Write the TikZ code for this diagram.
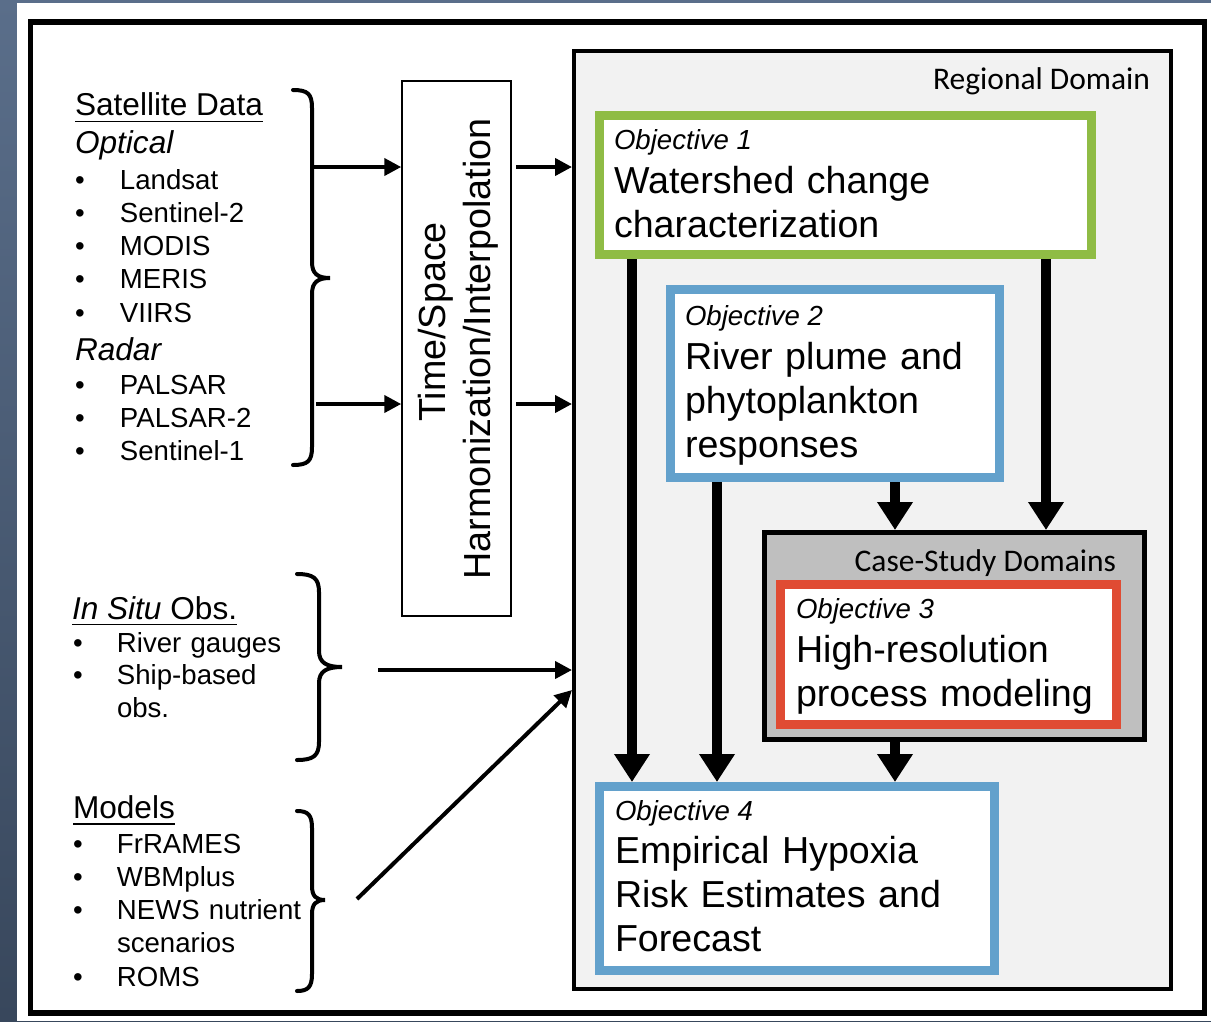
\documentclass[tikz,border=0pt]{standalone}
\usepackage{fontspec}
\setmainfont{Liberation Sans}
\newfontfamily\calibri{Carlito}
\usetikzlibrary{arrows.meta,calc}
\definecolor{bgtop}{HTML}{5A6E8A}
\definecolor{bgbot}{HTML}{38475C}
\definecolor{objgreen}{RGB}{143,188,69}
\definecolor{objblue}{RGB}{99,161,204}
\definecolor{objred}{RGB}{224,75,51}
\definecolor{regfill}{HTML}{F2F2F2}
\definecolor{casefill}{HTML}{BFBFBF}
\newcommand\bulA{\leavevmode\llap{\makebox[45pt][l]{•}}}
\newcommand\bulB{\leavevmode\llap{\makebox[44pt][l]{•}}}
\begin{document}
\begin{tikzpicture}[x=1pt,y=-1pt,
  txt/.style={inner sep=0pt, outer sep=0pt},
  head/.style={txt, anchor=base west, font=\fontsize{31.6}{36}\selectfont},
  lstA/.style={txt, anchor=base west, text width=300pt, align=left, font=\fontsize{27.6}{33.3}\selectfont},
  lstB/.style={txt, anchor=base west, text width=300pt, align=left, font=\fontsize{27.6}{32.6}\selectfont},
  lstC/.style={txt, anchor=base west, text width=300pt, align=left, font=\fontsize{27.6}{33.25}\selectfont},
  lbl/.style={txt, anchor=base west, font=\fontsize{27.6}{33}\selectfont\itshape},
  big/.style={txt, anchor=base west, text width=480pt, align=left, font=\fontsize{37.6}{44.3}\selectfont},
  cal/.style={txt, anchor=base east, font=\calibri\fontsize{31.5}{36}\selectfont},
  tsfont/.style={txt, rotate=90, font=\fontsize{37.7}{44}\selectfont},
  objbox/.style={draw=#1, fill=white, line width=9pt, inner sep=0pt},
  brace/.style={line width=4pt, line cap=round},
  thinarrow/.style={line width=4pt, -{Triangle[length=17pt,width=17pt]}},
  thickarrow/.style={line width=9.5pt, -{Triangle[length=28pt,width=34pt]}},
  uline/.style={line width=1.8pt}
]
\useasboundingbox (0,0) rectangle (1211,1021);
% background
\fill[top color=bgtop, bottom color=bgbot] (0,0) rectangle (1211,1021);
\fill[white] (17,3) rectangle (1211,1021);
\draw[line width=5.5pt] (30.5,22) rectangle (1204.5,1013);

% regional domain
\node[draw, line width=4pt, fill=regfill, minimum width=597pt, minimum height=938pt, inner sep=0pt] (reg) at (872.5,520) {};
\node[cal] (regl) at (1150,89) {Regional Domain};

% time/space box
\node[draw, line width=1.5pt, fill=white, minimum width=109pt, minimum height=535pt, inner sep=0pt] (ts) at (456.5,348.5) {};
\node[tsfont] (ts1) at (436,322) {Time/Space};
\node[tsfont] (ts2) at (481,349) {Harmonization/Interpolation};

% satellite data
\node[head] (sath) at (75,115) {Satellite Data};
\draw[uline] ([yshift=-6.5pt]sath.base west) -- ([yshift=-6.5pt]sath.base east);
\node[head, font=\fontsize{31.6}{36}\selectfont\itshape] (opt) at (75,153) {Optical};
\node[lstA] (optl) at (120,189) {\bulA Landsat\\\bulA Sentinel-2\\\bulA MODIS\\\bulA MERIS\\\bulA VIIRS};
\node[head, font=\fontsize{31.6}{36}\selectfont\itshape] (rad) at (75,360) {Radar};
\node[lstA] (radl) at (120,394) {\bulA PALSAR\\\bulA PALSAR-2\\\bulA Sentinel-1};

% in situ
\node[head] (insh) at (72,619) {\textit{In Situ} Obs.};
\draw[uline] ([yshift=-5.5pt]insh.base west) -- ([yshift=-5.5pt]insh.base east);
\node[lstB] (insl) at (117,652) {\bulB River gauges\\\bulB Ship-based\\obs.};

% models
\node[head] (modh) at (73,818) {Models};
\draw[uline] ([yshift=-6pt]modh.base west) -- ([yshift=-6pt]modh.base east);
\node[lstC] (modl) at (117,853) {\bulB FrRAMES\\\bulB WBMplus\\\bulB NEWS nutrient\\scenarios\\\bulB ROMS};

% braces
\draw[brace] (293,90) .. controls (308,90) and (312,94) .. (312,108) -- (312,262)
  .. controls (312,274) and (318,278) .. (330,278) .. controls (318,278) and (312,282) .. (312,294)
  -- (312,447) .. controls (312,461) and (308,465) .. (293,465);
\draw[brace] (297,574) .. controls (313,574) and (319,578) .. (319,592) -- (319,651)
  .. controls (319,663) and (327,667) .. (342,667) .. controls (327,667) and (319,671) .. (319,683)
  -- (319,742) .. controls (319,756) and (313,760) .. (297,760);
\draw[brace] (297,811) .. controls (308,811) and (312,815) .. (312,828) -- (312,886)
  .. controls (312,896) and (316,900) .. (325,900) .. controls (316,900) and (312,904) .. (312,914)
  -- (312,974) .. controls (312,987) and (308,991) .. (297,991);

% thin arrows
\coordinate (b1a) at (312,167);
\coordinate (b1b) at (316,404);
\draw[thinarrow] (b1a) -- (b1a -| ts.west);
\draw[thinarrow] (b1b) -- (b1b -| ts.west);
\coordinate (t1) at (516,167);
\coordinate (t2) at (516,404);
\draw[thinarrow] (t1) -- (t1 -| reg.west);
\draw[thinarrow] (t2) -- (t2 -| reg.west);
\coordinate (isA) at (378,670);
\draw[thinarrow] (isA) -- (isA -| reg.west);
\coordinate (mdA) at (357,899);
\coordinate (mdY) at (0,690);
\draw[thinarrow] (mdA) -- (reg.west |- mdY);

% objective boxes
\node[objbox=objgreen, minimum width=492pt, minimum height=139pt] (o1) at (845.5,185) {};
\node[lbl] (o1l) at (614,149) {Objective 1};
\node[big] (o1t) at (614,193) {Watershed change\\characterization};

\node[objbox=objblue, minimum width=329pt, minimum height=188pt] (o2) at (835,383.5) {};
\node[lbl] (o2l) at (685,325) {Objective 2};
\node[big] (o2t) at (685,369) {River plume and\\phytoplankton\\responses};

\node[draw, line width=5pt, fill=casefill, minimum width=380pt, minimum height=207pt, inner sep=0pt] (cs) at (954.5,636) {};
\node[cal] (csl) at (1116,571) {Case-Study Domains};
\node[objbox=objred, minimum width=336pt, minimum height=140pt] (o3) at (948.5,654.5) {};
\node[lbl] (o3l) at (796,618) {Objective 3};
\node[big] (o3t) at (796,662) {High-resolution\\process modeling};

\node[objbox=objblue, minimum width=395pt, minimum height=184pt] (o4) at (797,878.5) {};
\node[lbl] (o4l) at (615,820) {Objective 4};
\node[big] (o4t) at (615,863) {Empirical Hypoxia\\Risk Estimates and\\Forecast};

% thick arrows
\coordinate (xa) at (632,0);
\coordinate (xb) at (1046,0);
\coordinate (xc) at (717,0);
\coordinate (xd) at (895,0);
\draw[thickarrow] (o1.south -| xa) -- (o4.north -| xa);
\draw[thickarrow] (o1.south -| xb) -- (cs.north -| xb);
\draw[thickarrow] (o2.south -| xc) -- (o4.north -| xc);
\draw[thickarrow] (o2.south -| xd) -- (cs.north -| xd);
\draw[thickarrow] (cs.south -| xd) -- (o4.north -| xd);
\end{tikzpicture}
\end{document}
